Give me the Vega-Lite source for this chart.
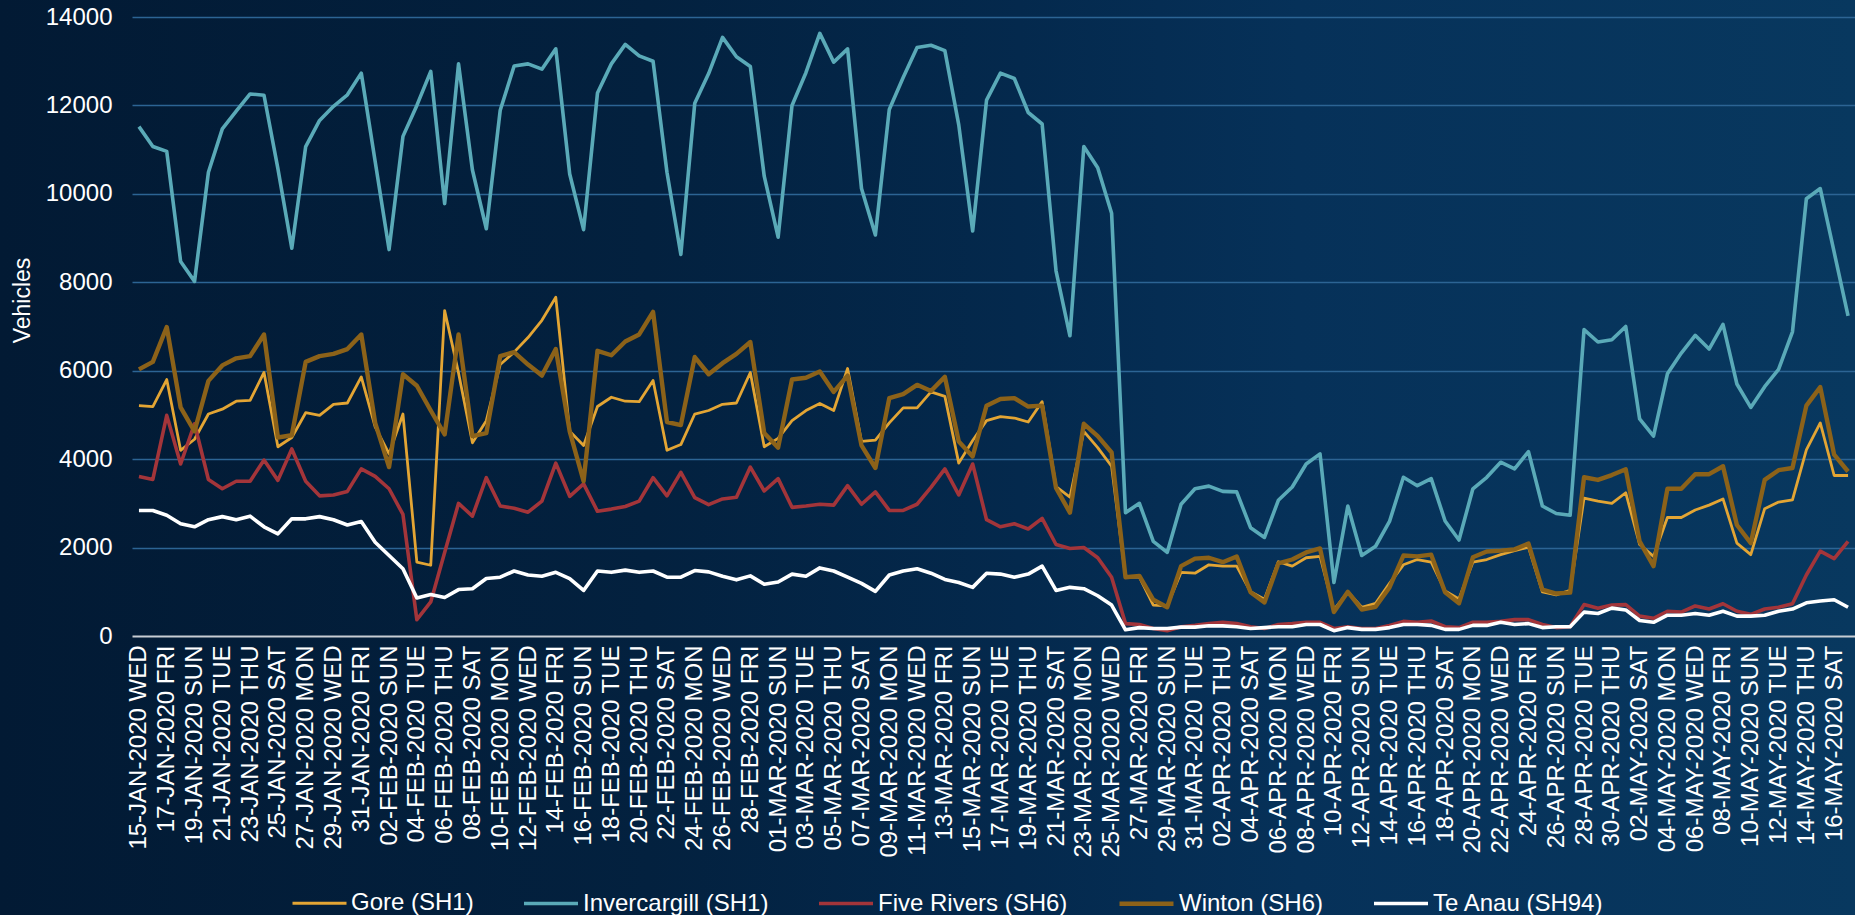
{
  "$schema": "https://vega.github.io/schema/vega-lite/v6.json",
  "width": 1855,
  "height": 915,
  "padding": 0,
  "autosize": {"type": "none"},
  "background": "#021A34",
  "config": {
    "font": "Liberation Sans",
    "view": {
      "stroke": null,
      "fill": {
        "gradient": "linear",
        "x1": 0, "y1": 0, "x2": 1, "y2": 0,
        "stops": [
          {"offset": 0, "color": "#021A34"},
          {"offset": 0.35, "color": "#03213F"},
          {"offset": 0.55, "color": "#04294D"},
          {"offset": 0.7, "color": "#063159"},
          {"offset": 1, "color": "#08385F"}
        ]
      }
    }
  },
  "data": {
    "values": [
      {"d": "15-JAN-2020 WED", "Gore (SH1)": 5210, "Invercargill (SH1)": 11520, "Five Rivers (SH6)": 3610, "Winton (SH6)": 6030, "Te Anau (SH94)": 2840},
      {"d": "16-JAN-2020 THU", "Gore (SH1)": 5190, "Invercargill (SH1)": 11070, "Five Rivers (SH6)": 3540, "Winton (SH6)": 6200, "Te Anau (SH94)": 2840},
      {"d": "17-JAN-2020 FRI", "Gore (SH1)": 5800, "Invercargill (SH1)": 10960, "Five Rivers (SH6)": 4990, "Winton (SH6)": 6990, "Te Anau (SH94)": 2730},
      {"d": "18-JAN-2020 SAT", "Gore (SH1)": 4200, "Invercargill (SH1)": 8470, "Five Rivers (SH6)": 3890, "Winton (SH6)": 5170, "Te Anau (SH94)": 2540},
      {"d": "19-JAN-2020 SUN", "Gore (SH1)": 4450, "Invercargill (SH1)": 8020, "Five Rivers (SH6)": 4800, "Winton (SH6)": 4630, "Te Anau (SH94)": 2470},
      {"d": "20-JAN-2020 MON", "Gore (SH1)": 5020, "Invercargill (SH1)": 10490, "Five Rivers (SH6)": 3540, "Winton (SH6)": 5770, "Te Anau (SH94)": 2630},
      {"d": "21-JAN-2020 TUE", "Gore (SH1)": 5130, "Invercargill (SH1)": 11470, "Five Rivers (SH6)": 3330, "Winton (SH6)": 6120, "Te Anau (SH94)": 2700},
      {"d": "22-JAN-2020 WED", "Gore (SH1)": 5310, "Invercargill (SH1)": 11870, "Five Rivers (SH6)": 3500, "Winton (SH6)": 6280, "Te Anau (SH94)": 2630},
      {"d": "23-JAN-2020 THU", "Gore (SH1)": 5330, "Invercargill (SH1)": 12260, "Five Rivers (SH6)": 3500, "Winton (SH6)": 6330, "Te Anau (SH94)": 2710},
      {"d": "24-JAN-2020 FRI", "Gore (SH1)": 5960, "Invercargill (SH1)": 12230, "Five Rivers (SH6)": 3980, "Winton (SH6)": 6820, "Te Anau (SH94)": 2470},
      {"d": "25-JAN-2020 SAT", "Gore (SH1)": 4280, "Invercargill (SH1)": 10570, "Five Rivers (SH6)": 3520, "Winton (SH6)": 4490, "Te Anau (SH94)": 2310},
      {"d": "26-JAN-2020 SUN", "Gore (SH1)": 4490, "Invercargill (SH1)": 8770, "Five Rivers (SH6)": 4230, "Winton (SH6)": 4540, "Te Anau (SH94)": 2650},
      {"d": "27-JAN-2020 MON", "Gore (SH1)": 5050, "Invercargill (SH1)": 11070, "Five Rivers (SH6)": 3500, "Winton (SH6)": 6200, "Te Anau (SH94)": 2650},
      {"d": "28-JAN-2020 TUE", "Gore (SH1)": 4990, "Invercargill (SH1)": 11660, "Five Rivers (SH6)": 3170, "Winton (SH6)": 6330, "Te Anau (SH94)": 2700},
      {"d": "29-JAN-2020 WED", "Gore (SH1)": 5240, "Invercargill (SH1)": 11980, "Five Rivers (SH6)": 3190, "Winton (SH6)": 6380, "Te Anau (SH94)": 2630},
      {"d": "30-JAN-2020 THU", "Gore (SH1)": 5270, "Invercargill (SH1)": 12240, "Five Rivers (SH6)": 3270, "Winton (SH6)": 6490, "Te Anau (SH94)": 2510},
      {"d": "31-JAN-2020 FRI", "Gore (SH1)": 5860, "Invercargill (SH1)": 12730, "Five Rivers (SH6)": 3780, "Winton (SH6)": 6820, "Te Anau (SH94)": 2590},
      {"d": "01-FEB-2020 SAT", "Gore (SH1)": 4730, "Invercargill (SH1)": 10730, "Five Rivers (SH6)": 3610, "Winton (SH6)": 4820, "Te Anau (SH94)": 2120},
      {"d": "02-FEB-2020 SUN", "Gore (SH1)": 4120, "Invercargill (SH1)": 8740, "Five Rivers (SH6)": 3330, "Winton (SH6)": 3820, "Te Anau (SH94)": 1820},
      {"d": "03-FEB-2020 MON", "Gore (SH1)": 5020, "Invercargill (SH1)": 11300, "Five Rivers (SH6)": 2750, "Winton (SH6)": 5920, "Te Anau (SH94)": 1520},
      {"d": "04-FEB-2020 TUE", "Gore (SH1)": 1670, "Invercargill (SH1)": 12000, "Five Rivers (SH6)": 370, "Winton (SH6)": 5660, "Te Anau (SH94)": 860},
      {"d": "05-FEB-2020 WED", "Gore (SH1)": 1600, "Invercargill (SH1)": 12770, "Five Rivers (SH6)": 770, "Winton (SH6)": 5100, "Te Anau (SH94)": 940},
      {"d": "06-FEB-2020 THU", "Gore (SH1)": 7360, "Invercargill (SH1)": 9780, "Five Rivers (SH6)": 1890, "Winton (SH6)": 4560, "Te Anau (SH94)": 870},
      {"d": "07-FEB-2020 FRI", "Gore (SH1)": 5950, "Invercargill (SH1)": 12940, "Five Rivers (SH6)": 3000, "Winton (SH6)": 6820, "Te Anau (SH94)": 1050},
      {"d": "08-FEB-2020 SAT", "Gore (SH1)": 4370, "Invercargill (SH1)": 10540, "Five Rivers (SH6)": 2710, "Winton (SH6)": 4520, "Te Anau (SH94)": 1070},
      {"d": "09-FEB-2020 SUN", "Gore (SH1)": 4870, "Invercargill (SH1)": 9210, "Five Rivers (SH6)": 3580, "Winton (SH6)": 4590, "Te Anau (SH94)": 1300},
      {"d": "10-FEB-2020 MON", "Gore (SH1)": 6140, "Invercargill (SH1)": 11890, "Five Rivers (SH6)": 2940, "Winton (SH6)": 6330, "Te Anau (SH94)": 1330},
      {"d": "11-FEB-2020 TUE", "Gore (SH1)": 6420, "Invercargill (SH1)": 12890, "Five Rivers (SH6)": 2890, "Winton (SH6)": 6420, "Te Anau (SH94)": 1470},
      {"d": "12-FEB-2020 WED", "Gore (SH1)": 6750, "Invercargill (SH1)": 12940, "Five Rivers (SH6)": 2800, "Winton (SH6)": 6140, "Te Anau (SH94)": 1380},
      {"d": "13-FEB-2020 THU", "Gore (SH1)": 7140, "Invercargill (SH1)": 12820, "Five Rivers (SH6)": 3050, "Winton (SH6)": 5890, "Te Anau (SH94)": 1350},
      {"d": "14-FEB-2020 FRI", "Gore (SH1)": 7660, "Invercargill (SH1)": 13280, "Five Rivers (SH6)": 3910, "Winton (SH6)": 6490, "Te Anau (SH94)": 1440},
      {"d": "15-FEB-2020 SAT", "Gore (SH1)": 4630, "Invercargill (SH1)": 10450, "Five Rivers (SH6)": 3160, "Winton (SH6)": 4630, "Te Anau (SH94)": 1300},
      {"d": "16-FEB-2020 SUN", "Gore (SH1)": 4310, "Invercargill (SH1)": 9190, "Five Rivers (SH6)": 3440, "Winton (SH6)": 3500, "Te Anau (SH94)": 1030},
      {"d": "17-FEB-2020 MON", "Gore (SH1)": 5190, "Invercargill (SH1)": 12280, "Five Rivers (SH6)": 2820, "Winton (SH6)": 6450, "Te Anau (SH94)": 1470},
      {"d": "18-FEB-2020 TUE", "Gore (SH1)": 5400, "Invercargill (SH1)": 12940, "Five Rivers (SH6)": 2870, "Winton (SH6)": 6350, "Te Anau (SH94)": 1440},
      {"d": "19-FEB-2020 WED", "Gore (SH1)": 5310, "Invercargill (SH1)": 13380, "Five Rivers (SH6)": 2930, "Winton (SH6)": 6660, "Te Anau (SH94)": 1490},
      {"d": "20-FEB-2020 THU", "Gore (SH1)": 5300, "Invercargill (SH1)": 13120, "Five Rivers (SH6)": 3050, "Winton (SH6)": 6820, "Te Anau (SH94)": 1440},
      {"d": "21-FEB-2020 FRI", "Gore (SH1)": 5780, "Invercargill (SH1)": 13000, "Five Rivers (SH6)": 3580, "Winton (SH6)": 7330, "Te Anau (SH94)": 1470},
      {"d": "22-FEB-2020 SAT", "Gore (SH1)": 4200, "Invercargill (SH1)": 10490, "Five Rivers (SH6)": 3170, "Winton (SH6)": 4840, "Te Anau (SH94)": 1330},
      {"d": "23-FEB-2020 SUN", "Gore (SH1)": 4330, "Invercargill (SH1)": 8630, "Five Rivers (SH6)": 3700, "Winton (SH6)": 4770, "Te Anau (SH94)": 1330},
      {"d": "24-FEB-2020 MON", "Gore (SH1)": 5020, "Invercargill (SH1)": 12050, "Five Rivers (SH6)": 3130, "Winton (SH6)": 6310, "Te Anau (SH94)": 1480},
      {"d": "25-FEB-2020 TUE", "Gore (SH1)": 5100, "Invercargill (SH1)": 12720, "Five Rivers (SH6)": 2970, "Winton (SH6)": 5920, "Te Anau (SH94)": 1450},
      {"d": "26-FEB-2020 WED", "Gore (SH1)": 5240, "Invercargill (SH1)": 13540, "Five Rivers (SH6)": 3100, "Winton (SH6)": 6170, "Te Anau (SH94)": 1350},
      {"d": "27-FEB-2020 THU", "Gore (SH1)": 5270, "Invercargill (SH1)": 13100, "Five Rivers (SH6)": 3140, "Winton (SH6)": 6380, "Te Anau (SH94)": 1270},
      {"d": "28-FEB-2020 FRI", "Gore (SH1)": 5960, "Invercargill (SH1)": 12880, "Five Rivers (SH6)": 3820, "Winton (SH6)": 6650, "Te Anau (SH94)": 1360},
      {"d": "29-FEB-2020 SAT", "Gore (SH1)": 4280, "Invercargill (SH1)": 10400, "Five Rivers (SH6)": 3280, "Winton (SH6)": 4590, "Te Anau (SH94)": 1170},
      {"d": "01-MAR-2020 SUN", "Gore (SH1)": 4470, "Invercargill (SH1)": 9020, "Five Rivers (SH6)": 3560, "Winton (SH6)": 4260, "Te Anau (SH94)": 1220},
      {"d": "02-MAR-2020 MON", "Gore (SH1)": 4870, "Invercargill (SH1)": 12000, "Five Rivers (SH6)": 2910, "Winton (SH6)": 5800, "Te Anau (SH94)": 1400},
      {"d": "03-MAR-2020 TUE", "Gore (SH1)": 5100, "Invercargill (SH1)": 12740, "Five Rivers (SH6)": 2940, "Winton (SH6)": 5840, "Te Anau (SH94)": 1350},
      {"d": "04-MAR-2020 WED", "Gore (SH1)": 5260, "Invercargill (SH1)": 13630, "Five Rivers (SH6)": 2980, "Winton (SH6)": 5980, "Te Anau (SH94)": 1540},
      {"d": "05-MAR-2020 THU", "Gore (SH1)": 5100, "Invercargill (SH1)": 12980, "Five Rivers (SH6)": 2960, "Winton (SH6)": 5520, "Te Anau (SH94)": 1470},
      {"d": "06-MAR-2020 FRI", "Gore (SH1)": 6050, "Invercargill (SH1)": 13280, "Five Rivers (SH6)": 3400, "Winton (SH6)": 5890, "Te Anau (SH94)": 1330},
      {"d": "07-MAR-2020 SAT", "Gore (SH1)": 4400, "Invercargill (SH1)": 10120, "Five Rivers (SH6)": 2980, "Winton (SH6)": 4310, "Te Anau (SH94)": 1190},
      {"d": "08-MAR-2020 SUN", "Gore (SH1)": 4430, "Invercargill (SH1)": 9070, "Five Rivers (SH6)": 3260, "Winton (SH6)": 3800, "Te Anau (SH94)": 1010},
      {"d": "09-MAR-2020 MON", "Gore (SH1)": 4820, "Invercargill (SH1)": 11910, "Five Rivers (SH6)": 2840, "Winton (SH6)": 5380, "Te Anau (SH94)": 1380},
      {"d": "10-MAR-2020 TUE", "Gore (SH1)": 5160, "Invercargill (SH1)": 12630, "Five Rivers (SH6)": 2840, "Winton (SH6)": 5470, "Te Anau (SH94)": 1470},
      {"d": "11-MAR-2020 WED", "Gore (SH1)": 5160, "Invercargill (SH1)": 13310, "Five Rivers (SH6)": 2980, "Winton (SH6)": 5680, "Te Anau (SH94)": 1520},
      {"d": "12-MAR-2020 THU", "Gore (SH1)": 5520, "Invercargill (SH1)": 13360, "Five Rivers (SH6)": 3360, "Winton (SH6)": 5540, "Te Anau (SH94)": 1420},
      {"d": "13-MAR-2020 FRI", "Gore (SH1)": 5420, "Invercargill (SH1)": 13240, "Five Rivers (SH6)": 3780, "Winton (SH6)": 5860, "Te Anau (SH94)": 1280},
      {"d": "14-MAR-2020 SAT", "Gore (SH1)": 3910, "Invercargill (SH1)": 11560, "Five Rivers (SH6)": 3190, "Winton (SH6)": 4400, "Te Anau (SH94)": 1210},
      {"d": "15-MAR-2020 SUN", "Gore (SH1)": 4420, "Invercargill (SH1)": 9160, "Five Rivers (SH6)": 3890, "Winton (SH6)": 4060, "Te Anau (SH94)": 1100},
      {"d": "16-MAR-2020 MON", "Gore (SH1)": 4870, "Invercargill (SH1)": 12120, "Five Rivers (SH6)": 2630, "Winton (SH6)": 5210, "Te Anau (SH94)": 1420},
      {"d": "17-MAR-2020 TUE", "Gore (SH1)": 4960, "Invercargill (SH1)": 12730, "Five Rivers (SH6)": 2470, "Winton (SH6)": 5360, "Te Anau (SH94)": 1400},
      {"d": "18-MAR-2020 WED", "Gore (SH1)": 4930, "Invercargill (SH1)": 12610, "Five Rivers (SH6)": 2540, "Winton (SH6)": 5380, "Te Anau (SH94)": 1330},
      {"d": "19-MAR-2020 THU", "Gore (SH1)": 4840, "Invercargill (SH1)": 11840, "Five Rivers (SH6)": 2420, "Winton (SH6)": 5190, "Te Anau (SH94)": 1400},
      {"d": "20-MAR-2020 FRI", "Gore (SH1)": 5300, "Invercargill (SH1)": 11580, "Five Rivers (SH6)": 2660, "Winton (SH6)": 5210, "Te Anau (SH94)": 1580},
      {"d": "21-MAR-2020 SAT", "Gore (SH1)": 3380, "Invercargill (SH1)": 8260, "Five Rivers (SH6)": 2070, "Winton (SH6)": 3350, "Te Anau (SH94)": 1030},
      {"d": "22-MAR-2020 SUN", "Gore (SH1)": 3140, "Invercargill (SH1)": 6790, "Five Rivers (SH6)": 1980, "Winton (SH6)": 2790, "Te Anau (SH94)": 1100},
      {"d": "23-MAR-2020 MON", "Gore (SH1)": 4630, "Invercargill (SH1)": 11070, "Five Rivers (SH6)": 2000, "Winton (SH6)": 4800, "Te Anau (SH94)": 1070},
      {"d": "24-MAR-2020 TUE", "Gore (SH1)": 4260, "Invercargill (SH1)": 10590, "Five Rivers (SH6)": 1770, "Winton (SH6)": 4520, "Te Anau (SH94)": 910},
      {"d": "25-MAR-2020 WED", "Gore (SH1)": 3840, "Invercargill (SH1)": 9560, "Five Rivers (SH6)": 1330, "Winton (SH6)": 4150, "Te Anau (SH94)": 700},
      {"d": "26-MAR-2020 THU", "Gore (SH1)": 1330, "Invercargill (SH1)": 2790, "Five Rivers (SH6)": 280, "Winton (SH6)": 1330, "Te Anau (SH94)": 140},
      {"d": "27-MAR-2020 FRI", "Gore (SH1)": 1330, "Invercargill (SH1)": 3000, "Five Rivers (SH6)": 260, "Winton (SH6)": 1360, "Te Anau (SH94)": 190},
      {"d": "28-MAR-2020 SAT", "Gore (SH1)": 700, "Invercargill (SH1)": 2140, "Five Rivers (SH6)": 170, "Winton (SH6)": 820, "Te Anau (SH94)": 170},
      {"d": "29-MAR-2020 SUN", "Gore (SH1)": 680, "Invercargill (SH1)": 1890, "Five Rivers (SH6)": 120, "Winton (SH6)": 650, "Te Anau (SH94)": 170},
      {"d": "30-MAR-2020 MON", "Gore (SH1)": 1440, "Invercargill (SH1)": 2980, "Five Rivers (SH6)": 210, "Winton (SH6)": 1580, "Te Anau (SH94)": 200},
      {"d": "31-MAR-2020 TUE", "Gore (SH1)": 1420, "Invercargill (SH1)": 3330, "Five Rivers (SH6)": 240, "Winton (SH6)": 1750, "Te Anau (SH94)": 200},
      {"d": "01-APR-2020 WED", "Gore (SH1)": 1610, "Invercargill (SH1)": 3390, "Five Rivers (SH6)": 280, "Winton (SH6)": 1770, "Te Anau (SH94)": 230},
      {"d": "02-APR-2020 THU", "Gore (SH1)": 1580, "Invercargill (SH1)": 3270, "Five Rivers (SH6)": 310, "Winton (SH6)": 1670, "Te Anau (SH94)": 230},
      {"d": "03-APR-2020 FRI", "Gore (SH1)": 1580, "Invercargill (SH1)": 3260, "Five Rivers (SH6)": 280, "Winton (SH6)": 1800, "Te Anau (SH94)": 210},
      {"d": "04-APR-2020 SAT", "Gore (SH1)": 1000, "Invercargill (SH1)": 2450, "Five Rivers (SH6)": 210, "Winton (SH6)": 990, "Te Anau (SH94)": 170},
      {"d": "05-APR-2020 SUN", "Gore (SH1)": 830, "Invercargill (SH1)": 2230, "Five Rivers (SH6)": 170, "Winton (SH6)": 760, "Te Anau (SH94)": 190},
      {"d": "06-APR-2020 MON", "Gore (SH1)": 1680, "Invercargill (SH1)": 3070, "Five Rivers (SH6)": 260, "Winton (SH6)": 1640, "Te Anau (SH94)": 210},
      {"d": "07-APR-2020 TUE", "Gore (SH1)": 1580, "Invercargill (SH1)": 3370, "Five Rivers (SH6)": 280, "Winton (SH6)": 1730, "Te Anau (SH94)": 210},
      {"d": "08-APR-2020 WED", "Gore (SH1)": 1770, "Invercargill (SH1)": 3890, "Five Rivers (SH6)": 310, "Winton (SH6)": 1890, "Te Anau (SH94)": 260},
      {"d": "09-APR-2020 THU", "Gore (SH1)": 1800, "Invercargill (SH1)": 4120, "Five Rivers (SH6)": 310, "Winton (SH6)": 1980, "Te Anau (SH94)": 260},
      {"d": "10-APR-2020 FRI", "Gore (SH1)": 590, "Invercargill (SH1)": 1210, "Five Rivers (SH6)": 170, "Winton (SH6)": 540, "Te Anau (SH94)": 120},
      {"d": "11-APR-2020 SAT", "Gore (SH1)": 1000, "Invercargill (SH1)": 2940, "Five Rivers (SH6)": 210, "Winton (SH6)": 1000, "Te Anau (SH94)": 190},
      {"d": "12-APR-2020 SUN", "Gore (SH1)": 650, "Invercargill (SH1)": 1820, "Five Rivers (SH6)": 170, "Winton (SH6)": 600, "Te Anau (SH94)": 150},
      {"d": "13-APR-2020 MON", "Gore (SH1)": 740, "Invercargill (SH1)": 2030, "Five Rivers (SH6)": 170, "Winton (SH6)": 660, "Te Anau (SH94)": 150},
      {"d": "14-APR-2020 TUE", "Gore (SH1)": 1190, "Invercargill (SH1)": 2590, "Five Rivers (SH6)": 240, "Winton (SH6)": 1100, "Te Anau (SH94)": 190},
      {"d": "15-APR-2020 WED", "Gore (SH1)": 1610, "Invercargill (SH1)": 3590, "Five Rivers (SH6)": 330, "Winton (SH6)": 1820, "Te Anau (SH94)": 260},
      {"d": "16-APR-2020 THU", "Gore (SH1)": 1730, "Invercargill (SH1)": 3400, "Five Rivers (SH6)": 310, "Winton (SH6)": 1800, "Te Anau (SH94)": 260},
      {"d": "17-APR-2020 FRI", "Gore (SH1)": 1670, "Invercargill (SH1)": 3560, "Five Rivers (SH6)": 340, "Winton (SH6)": 1840, "Te Anau (SH94)": 240},
      {"d": "18-APR-2020 SAT", "Gore (SH1)": 1020, "Invercargill (SH1)": 2600, "Five Rivers (SH6)": 210, "Winton (SH6)": 990, "Te Anau (SH94)": 150},
      {"d": "19-APR-2020 SUN", "Gore (SH1)": 840, "Invercargill (SH1)": 2170, "Five Rivers (SH6)": 190, "Winton (SH6)": 740, "Te Anau (SH94)": 150},
      {"d": "20-APR-2020 MON", "Gore (SH1)": 1670, "Invercargill (SH1)": 3330, "Five Rivers (SH6)": 310, "Winton (SH6)": 1780, "Te Anau (SH94)": 240},
      {"d": "21-APR-2020 TUE", "Gore (SH1)": 1730, "Invercargill (SH1)": 3590, "Five Rivers (SH6)": 310, "Winton (SH6)": 1910, "Te Anau (SH94)": 240},
      {"d": "22-APR-2020 WED", "Gore (SH1)": 1840, "Invercargill (SH1)": 3930, "Five Rivers (SH6)": 330, "Winton (SH6)": 1930, "Te Anau (SH94)": 310},
      {"d": "23-APR-2020 THU", "Gore (SH1)": 1930, "Invercargill (SH1)": 3780, "Five Rivers (SH6)": 370, "Winton (SH6)": 1960, "Te Anau (SH94)": 260},
      {"d": "24-APR-2020 FRI", "Gore (SH1)": 2010, "Invercargill (SH1)": 4170, "Five Rivers (SH6)": 370, "Winton (SH6)": 2090, "Te Anau (SH94)": 280},
      {"d": "25-APR-2020 SAT", "Gore (SH1)": 1000, "Invercargill (SH1)": 2940, "Five Rivers (SH6)": 260, "Winton (SH6)": 1050, "Te Anau (SH94)": 190},
      {"d": "26-APR-2020 SUN", "Gore (SH1)": 930, "Invercargill (SH1)": 2770, "Five Rivers (SH6)": 190, "Winton (SH6)": 960, "Te Anau (SH94)": 210},
      {"d": "27-APR-2020 MON", "Gore (SH1)": 1030, "Invercargill (SH1)": 2730, "Five Rivers (SH6)": 210, "Winton (SH6)": 980, "Te Anau (SH94)": 210},
      {"d": "28-APR-2020 TUE", "Gore (SH1)": 3120, "Invercargill (SH1)": 6930, "Five Rivers (SH6)": 710, "Winton (SH6)": 3590, "Te Anau (SH94)": 540},
      {"d": "29-APR-2020 WED", "Gore (SH1)": 3050, "Invercargill (SH1)": 6650, "Five Rivers (SH6)": 630, "Winton (SH6)": 3530, "Te Anau (SH94)": 510},
      {"d": "30-APR-2020 THU", "Gore (SH1)": 3000, "Invercargill (SH1)": 6700, "Five Rivers (SH6)": 700, "Winton (SH6)": 3640, "Te Anau (SH94)": 630},
      {"d": "01-MAY-2020 FRI", "Gore (SH1)": 3240, "Invercargill (SH1)": 7000, "Five Rivers (SH6)": 710, "Winton (SH6)": 3770, "Te Anau (SH94)": 590},
      {"d": "02-MAY-2020 SAT", "Gore (SH1)": 2070, "Invercargill (SH1)": 4910, "Five Rivers (SH6)": 450, "Winton (SH6)": 2140, "Te Anau (SH94)": 350},
      {"d": "03-MAY-2020 SUN", "Gore (SH1)": 1800, "Invercargill (SH1)": 4520, "Five Rivers (SH6)": 400, "Winton (SH6)": 1580, "Te Anau (SH94)": 310},
      {"d": "04-MAY-2020 MON", "Gore (SH1)": 2680, "Invercargill (SH1)": 5930, "Five Rivers (SH6)": 560, "Winton (SH6)": 3330, "Te Anau (SH94)": 470},
      {"d": "05-MAY-2020 TUE", "Gore (SH1)": 2680, "Invercargill (SH1)": 6400, "Five Rivers (SH6)": 540, "Winton (SH6)": 3330, "Te Anau (SH94)": 470},
      {"d": "06-MAY-2020 WED", "Gore (SH1)": 2850, "Invercargill (SH1)": 6800, "Five Rivers (SH6)": 680, "Winton (SH6)": 3660, "Te Anau (SH94)": 510},
      {"d": "07-MAY-2020 THU", "Gore (SH1)": 2960, "Invercargill (SH1)": 6490, "Five Rivers (SH6)": 610, "Winton (SH6)": 3660, "Te Anau (SH94)": 470},
      {"d": "08-MAY-2020 FRI", "Gore (SH1)": 3100, "Invercargill (SH1)": 7050, "Five Rivers (SH6)": 730, "Winton (SH6)": 3840, "Te Anau (SH94)": 560},
      {"d": "09-MAY-2020 SAT", "Gore (SH1)": 2100, "Invercargill (SH1)": 5700, "Five Rivers (SH6)": 560, "Winton (SH6)": 2510, "Te Anau (SH94)": 450},
      {"d": "10-MAY-2020 SUN", "Gore (SH1)": 1840, "Invercargill (SH1)": 5170, "Five Rivers (SH6)": 490, "Winton (SH6)": 2100, "Te Anau (SH94)": 450},
      {"d": "11-MAY-2020 MON", "Gore (SH1)": 2880, "Invercargill (SH1)": 5640, "Five Rivers (SH6)": 610, "Winton (SH6)": 3530, "Te Anau (SH94)": 470},
      {"d": "12-MAY-2020 TUE", "Gore (SH1)": 3030, "Invercargill (SH1)": 6030, "Five Rivers (SH6)": 650, "Winton (SH6)": 3750, "Te Anau (SH94)": 560},
      {"d": "13-MAY-2020 WED", "Gore (SH1)": 3080, "Invercargill (SH1)": 6880, "Five Rivers (SH6)": 730, "Winton (SH6)": 3800, "Te Anau (SH94)": 610},
      {"d": "14-MAY-2020 THU", "Gore (SH1)": 4210, "Invercargill (SH1)": 9890, "Five Rivers (SH6)": 1380, "Winton (SH6)": 5210, "Te Anau (SH94)": 750},
      {"d": "15-MAY-2020 FRI", "Gore (SH1)": 4820, "Invercargill (SH1)": 10120, "Five Rivers (SH6)": 1920, "Winton (SH6)": 5630, "Te Anau (SH94)": 790},
      {"d": "16-MAY-2020 SAT", "Gore (SH1)": 3630, "Invercargill (SH1)": 8680, "Five Rivers (SH6)": 1750, "Winton (SH6)": 4100, "Te Anau (SH94)": 820},
      {"d": "17-MAY-2020 SUN", "Gore (SH1)": 3630, "Invercargill (SH1)": 7240, "Five Rivers (SH6)": 2140, "Winton (SH6)": 3720, "Te Anau (SH94)": 650}
    ]
  },
  "transform": [
    {"fold": ["Gore (SH1)", "Invercargill (SH1)", "Five Rivers (SH6)", "Winton (SH6)", "Te Anau (SH94)"], "as": ["site", "vehicles"]}
  ],
  "mark": {"type": "line", "strokeJoin": "round", "strokeCap": "butt"},
  "encoding": {
    "x": {
      "field": "d",
      "type": "ordinal",
      "sort": null,
      "scale": {"type": "point", "padding": 0.5, "range": [132, 1855]},
      "axis": {
        "title": null,
        "offset": -279,
        "orient": "bottom",
        "grid": false,
        "ticks": false,
        "tickSize": 0,
        "domainColor": "#C8CDD4",
        "domainWidth": 2,
        "labelAngle": 270,
        "labelAlign": "right",
        "labelBaseline": "middle",
        "labelPadding": 9,
        "labelFontSize": 24,
        "labelColor": "#FFFFFF",
        "labelOverlap": false,
        "labelBound": false,
        "labelLimit": 0,
        "values": ["15-JAN-2020 WED", "17-JAN-2020 FRI", "19-JAN-2020 SUN", "21-JAN-2020 TUE", "23-JAN-2020 THU", "25-JAN-2020 SAT", "27-JAN-2020 MON", "29-JAN-2020 WED", "31-JAN-2020 FRI", "02-FEB-2020 SUN", "04-FEB-2020 TUE", "06-FEB-2020 THU", "08-FEB-2020 SAT", "10-FEB-2020 MON", "12-FEB-2020 WED", "14-FEB-2020 FRI", "16-FEB-2020 SUN", "18-FEB-2020 TUE", "20-FEB-2020 THU", "22-FEB-2020 SAT", "24-FEB-2020 MON", "26-FEB-2020 WED", "28-FEB-2020 FRI", "01-MAR-2020 SUN", "03-MAR-2020 TUE", "05-MAR-2020 THU", "07-MAR-2020 SAT", "09-MAR-2020 MON", "11-MAR-2020 WED", "13-MAR-2020 FRI", "15-MAR-2020 SUN", "17-MAR-2020 TUE", "19-MAR-2020 THU", "21-MAR-2020 SAT", "23-MAR-2020 MON", "25-MAR-2020 WED", "27-MAR-2020 FRI", "29-MAR-2020 SUN", "31-MAR-2020 TUE", "02-APR-2020 THU", "04-APR-2020 SAT", "06-APR-2020 MON", "08-APR-2020 WED", "10-APR-2020 FRI", "12-APR-2020 SUN", "14-APR-2020 TUE", "16-APR-2020 THU", "18-APR-2020 SAT", "20-APR-2020 MON", "22-APR-2020 WED", "24-APR-2020 FRI", "26-APR-2020 SUN", "28-APR-2020 TUE", "30-APR-2020 THU", "02-MAY-2020 SAT", "04-MAY-2020 MON", "06-MAY-2020 WED", "08-MAY-2020 FRI", "10-MAY-2020 SUN", "12-MAY-2020 TUE", "14-MAY-2020 THU", "16-MAY-2020 SAT"]
      }
    },
    "y": {
      "field": "vehicles",
      "type": "quantitative",
      "scale": {"domain": [0, 14000], "range": [636, 17], "nice": false, "zero": true},
      "axis": {
        "title": "Vehicles",
        "offset": -132,
        "orient": "left",
        "values": [0, 2000, 4000, 6000, 8000, 10000, 12000, 14000],
        "format": "d",
        "domain": false,
        "ticks": false,
        "tickSize": 0,
        "labelPadding": 20,
        "labelFontSize": 24,
        "labelColor": "#FFFFFF",
        "grid": true,
        "gridColor": {"condition": {"test": "datum.value === 0", "value": "transparent"}, "value": "#2C6494"},
        "gridWidth": 1.6,
        "titleFontSize": 23,
        "titleFontWeight": "normal",
        "titleColor": "#FFFFFF",
        "titleAngle": 270,
        "titleX": -98,
        "titleY": 300
      }
    },
    "color": {
      "field": "site",
      "type": "nominal",
      "sort": null,
      "scale": {
        "domain": ["Gore (SH1)", "Invercargill (SH1)", "Five Rivers (SH6)", "Winton (SH6)", "Te Anau (SH94)"],
        "range": ["#E3A534", "#5AAAB8", "#A3353A", "#8C6219", "#FFFFFF"]
      },
      "legend": {
        "title": null,
        "orient": "none",
        "direction": "horizontal",
        "legendX": 291,
        "legendY": 874,
        "symbolType": "stroke",
        "symbolSize": 2916,
        "symbolStrokeWidth": 4,
        "labelFontSize": 24,
        "labelColor": "#FFFFFF",
        "labelOffset": 3,
        "columnPadding": 42,
        "labelLimit": 400
      }
    },
    "strokeWidth": {
      "field": "site",
      "type": "nominal",
      "scale": {
        "type": "ordinal",
        "domain": ["Gore (SH1)", "Invercargill (SH1)", "Five Rivers (SH6)", "Winton (SH6)", "Te Anau (SH94)"],
        "range": [2.8, 3.6, 3.6, 4.4, 3.6]
      },
      "legend": null
    }
  }
}
